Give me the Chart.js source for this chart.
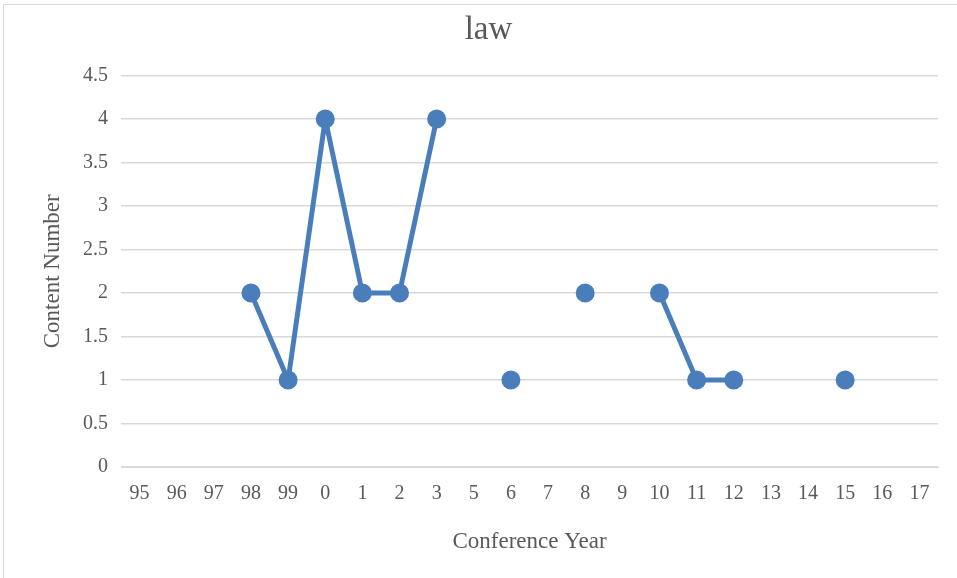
<!DOCTYPE html>
<html>
<head>
<meta charset="utf-8">
<script src="https://cdn.jsdelivr.net/npm/chart.js@4/dist/chart.umd.min.js"></script>
<style>
  html, body { margin: 0; padding: 0; background: #fff; }
  #wrap { position: absolute; left: 3px; top: 4px; width: 960px; height: 580px; border: 1px solid #d9d9d9; box-sizing: border-box; }
  #box { position: absolute; left: 0; top: 0; width: 957px; height: 578px; }
</style>
</head>
<body>
<div id="wrap"></div>
<div id="box"><canvas id="chart1" width="957" height="578"></canvas></div>
<script>
// conference years as shown on the axis (no 4 in the source)
var years = ['95','96','97','98','99','0','1','2','3','5','6','7','8','9','10','11','12','13','14','15','16','17'];
var contentNumber = [null, null, null, 2, 1, 4, 2, 2, 4, null, 1, null, 2, null, 2, 1, 1, null, null, 1, null, null];

var fontFam = "'Liberation Serif', 'DejaVu Serif', serif";
var grey = '#595959';

new Chart(document.getElementById('chart1'), {
    type: 'line',
    data: {
        labels: years,
        datasets: [{
            label: 'law',
            data: contentNumber,
            borderColor: '#4a7ebb',
            backgroundColor: '#4a7ebb',
            borderWidth: 5,
            borderJoinStyle: 'round',
            borderCapStyle: 'round',
            pointRadius: 7,
            pointHoverRadius: 7,
            spanGaps: false,
            tension: 0
        }]
    },
    options: {
        responsive: false,
        animation: false,
        layout: { padding: { left: 39, right: 19, top: 0, bottom: 0 } },
        plugins: {
            legend: { display: false },
            tooltip: { enabled: false },
            title: {
                display: true,
                text: 'law',
                color: grey,
                font: { family: fontFam, size: 33, weight: 'normal' },
                padding: { top: 11, bottom: 25 }
            }
        },
        scales: {
            x: {
                offset: true,
                grid: { display: false, drawTicks: false },
                border: { display: true, color: '#d9d9d9', width: 1 },
                ticks: { color: grey, font: { family: fontFam, size: 20 }, padding: 15, autoSkip: false, maxRotation: 0 },
                title: {
                    display: true,
                    text: 'Conference Year',
                    color: grey,
                    font: { family: fontFam, size: 23 },
                    padding: { top: 0, bottom: 22 }
                },
                afterFit: function(s) { s.height = 111; }
            },
            y: {
                min: 0,
                max: 4.5,
                ticks: {
                    stepSize: 0.5, color: grey, font: { family: fontFam, size: 20 }, padding: 13,
                    callback: function(v) { return String(v); }
                },
                grid: { color: '#d9d9d9', lineWidth: 1.5, drawTicks: false },
                border: { display: false },
                title: {
                    display: true,
                    text: 'Content Number',
                    color: grey,
                    font: { family: fontFam, size: 23 },
                    padding: { top: 0, bottom: 0 }
                },
                afterFit: function(s) { s.width = 82; }
            }
        }
    }
});
</script>
</body>
</html>
